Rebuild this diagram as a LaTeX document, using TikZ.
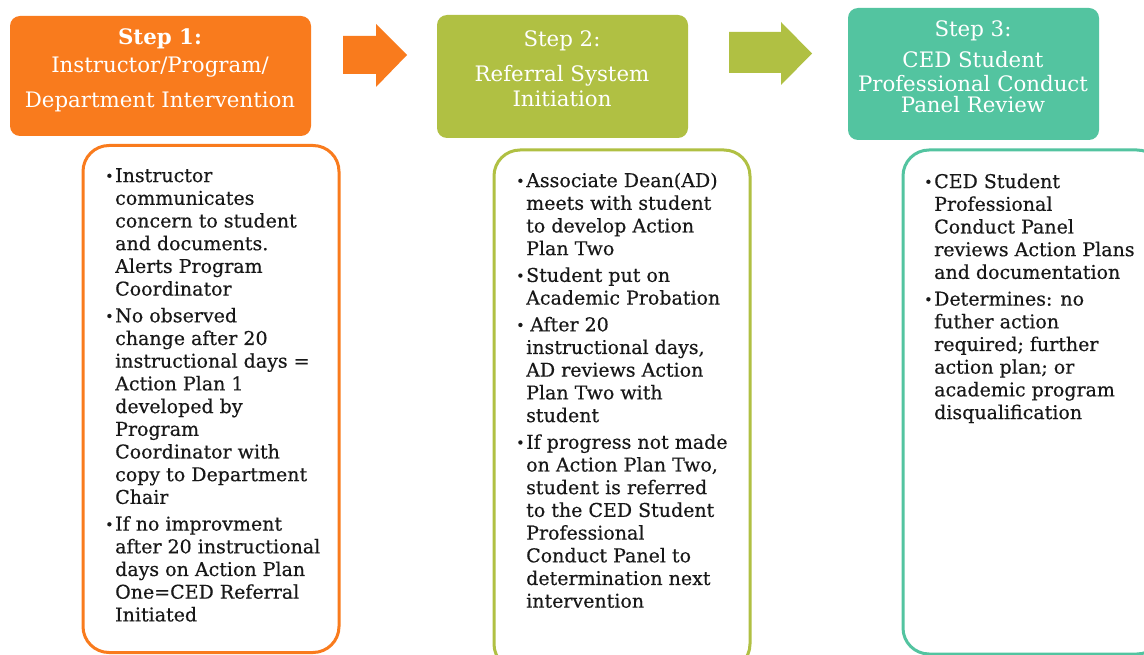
\documentclass[tikz,border=0pt]{standalone}
\usepackage{fontspec}
\setmainfont{DejaVu Serif}
\usepackage{array}
\definecolor{orng}{RGB}{249,123,29}
\definecolor{olivegr}{RGB}{176,192,67}
\definecolor{tealgr}{RGB}{83,196,160}
\definecolor{ink}{RGB}{24,24,24}
\newcommand{\bul}{\makebox[10pt][l]{\raisebox{1pt}{\scalebox{0.75}{•}}}}
\newcommand{\hdfont}{\fontsize{21.3}{24}\selectfont}
\newcommand{\bdfont}{\fontsize{19}{22.7}\selectfont\addfontfeature{FakeBold=0.4}}
\tikzset{
  headbox/.style={rounded corners=10pt, draw=none, inner sep=0pt},
  bodybox/.style={rounded corners=26pt, line width=3pt, fill=white, inner sep=0pt},
  headtext/.style={text=white, font=\hdfont, inner sep=0pt, anchor=base},
  bodytext/.style={text=ink, font=\bdfont, inner sep=0pt, anchor=north west},
}
\begin{document}
\begin{tikzpicture}[x=1pt,y=-1pt]
\useasboundingbox (0,0) rectangle (1144,655);
\fill[white] (0,0) rectangle (1144,655);
% header boxes
\node[headbox, fill=orng, minimum width=301pt, minimum height=120pt] (h1) at (160.5,76) {};
\node[headbox, fill=olivegr, minimum width=251pt, minimum height=123pt] (h2) at (562.5,76.5) {};
\node[headbox, fill=tealgr, minimum width=251pt, minimum height=132pt] (h3) at (973.5,74) {};
% block arrows
\coordinate (a1) at (343,55);
\fill[orng] (a1) ++(0,-19) -- ++(33,0) -- ++(0,-12) -- (407,55) -- (376,87) -- (376,74) -- (343,74) -- cycle;
\coordinate (a2) at (729,53);
\fill[olivegr] (a2) ++(0,-21) -- ++(52,0) -- ++(0,-10) -- (812,53.5) -- (781,85) -- (781,73) -- (729,73) -- cycle;
% header texts
\node[headtext] (h1a) at (160,45) {\bfseries Step 1:};
\node[headtext] (h1b) at (160,73) {Instructor/Program/};
\node[headtext] (h1c) at (160,108) {Department Intervention};
\node[headtext] (h2a) at (562,47) {Step 2:};
\node[headtext] (h2b) at (562,82) {Referral System};
\node[headtext] (h2c) at (562,107) {Initiation};
\node[headtext] (h3a) at (973,37) {Step 3:};
\node[headtext] (h3b) at (973,68) {CED Student};
\node[headtext] (h3c) at (973,92) {Professional Conduct};
\node[headtext] (h3d) at (973,113) {Panel Review};
% body boxes
\node[bodybox, draw=orng, minimum width=256pt, minimum height=507pt] (b1) at (211,399) {};
\node[bodybox, draw=olivegr, minimum width=256pt, minimum height=520pt] (b2) at (622,410) {};
\node[bodybox, draw=tealgr, minimum width=260pt, minimum height=504pt] (b3) at (1033,402) {};
% body texts
\node[bodytext] (t1) at (105,166) {\begin{tabular}{@{}l@{}l@{}}
\bul & Instructor\\
 & communicates\\
 & concern to student\\
 & and documents.\\
 & Alerts Program\\
 & Coordinator\\[4pt]
\bul & No observed\\
 & change after 20\\
 & instructional days =\\
 & Action Plan 1\\
 & developed by\\
 & Program\\
 & Coordinator with\\
 & copy to Department\\
 & Chair\\[4pt]
\bul & If no improvment\\
 & after 20 instructional\\
 & days on Action Plan\\
 & One=CED Referral\\
 & Initiated
\end{tabular}};
\node[bodytext] (t2) at (516,171) {\begin{tabular}{@{}l@{}l@{}}
\bul & Associate Dean(AD)\\
 & meets with student\\
 & to develop Action\\
 & Plan Two\\[4pt]
\bul & Student put on\\
 & Academic Probation\\[4pt]
\bul & \hspace{4pt}After 20\\
 & instructional days,\\
 & AD reviews Action\\
 & Plan Two with\\
 & student\\[4pt]
\bul & If progress not made\\
 & on Action Plan Two,\\
 & student is referred\\
 & to the CED Student\\
 & Professional\\
 & Conduct Panel to\\
 & determination next\\
 & intervention
\end{tabular}};
\node[bodytext] (t3) at (924,172) {\begin{tabular}{@{}l@{}l@{}}
\bul & CED Student\\
 & Professional\\
 & Conduct Panel\\
 & reviews Action Plans\\
 & and documentation\\[4pt]
\bul & Determines: no\\
 & futher action\\
 & required; further\\
 & action plan; or\\
 & academic program\\
 & disqualification
\end{tabular}};
\end{tikzpicture}
\end{document}
